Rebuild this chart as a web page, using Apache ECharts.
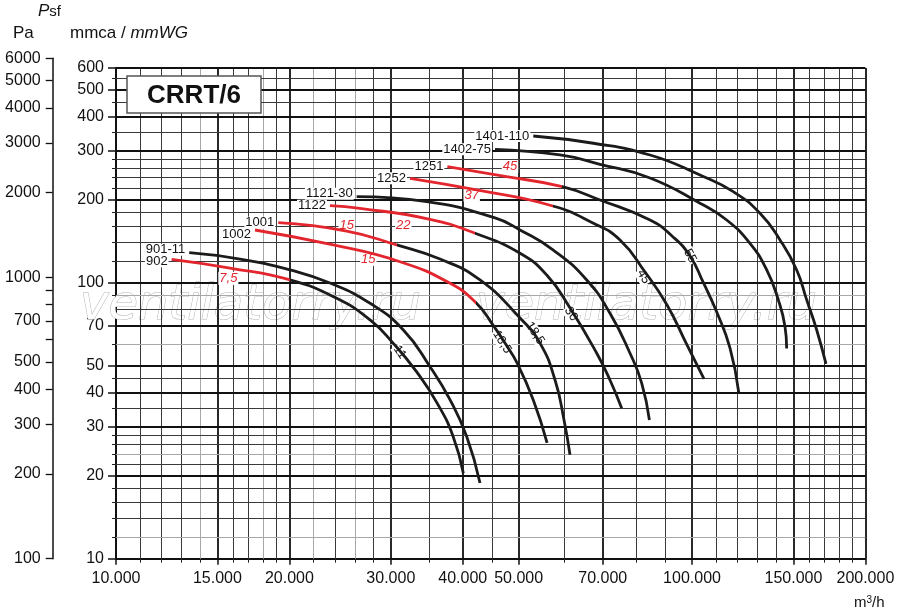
<!DOCTYPE html>
<html><head><meta charset="utf-8">
<script src="https://cdn.jsdelivr.net/npm/echarts@6/dist/echarts.min.js"></script>
<style>html,body{margin:0;padding:0;background:#fff}#c{width:900px;height:615px}</style>
</head><body><div id="c"></div>
<script>
// ---- axis ticks / grid values ----
const xTickMajor = [10000,15000,20000,30000,40000,50000,70000,100000,150000,200000];
const xTickMinor = [11000,12000,13000,14000,16000,17000,18000,19000,22000,24000,26000,28000,35000,45000,60000,80000,90000,110000,120000,130000,140000,160000,170000,180000,190000];
const yTickMajor = [10,20,30,40,50,70,100,200,300,400,500,600];
const yTickMinor = [12,14,16,18,22,24,26,28,35,45,60,80,90,120,140,160,180,220,240,260,280,350,450,550];
const paTickMajor = [100,200,300,400,500,700,1000,2000,3000,4000,5000,6000];
const paTickMinor = [600,800,900];
const xGridGray = [14000,18000,22000,26000];
const yGridGray = [12,24,60,90];

// ---- fan curves [m3/h, mmca] ----
const c902  = [[12490,121.5],[15770,113],[20050,102.3],[24160,87.8],[27610,73.3],[30300,60.3],[33270,47.5],[36080,36.7],[38470,27.8],[40090,20.4]];
const c901  = [[13400,128.4],[16420,121.8],[20050,111.2],[23520,99.7],[27610,84.2],[31540,67.4],[35090,49.6],[38020,37.6],[40630,27.7],[42850,18.8]];
const c1002 = [[17430,155.2],[23840,137],[31120,119.1],[38020,99.5],[42170,84.6],[45140,70.2],[47350,60.4],[49690,51.2],[53020,37.6],[56030,26.3]];
const c1001 = [[19130,165],[25150,153.9],[30710,137],[36520,121.8],[42850,102.3],[50280,74.5],[54460,60.4],[57840,44.4],[59950,31.8],[61400,23.8]];
const c1122 = [[23520,190.1],[26520,186],[35090,169.7],[42010,151],[50280,127.8],[55950,106.6],[61410,80.9],[68330,55.5],[72040,44.4],[75500,35.1]];
const c1121 = [[26170,204.9],[34630,196.6],[45500,171.6],[50280,155.2],[57440,131.3],[65640,102.3],[72040,77.5],[78050,55.5],[81800,43.2],[84340,31.8]];
const c1252 = [[32390,238.9],[42290,216.7],[57310,189.6],[67420,164.2],[74990,142.8],[82880,109.3],[90500,83.0],[98010,59.5],[104910,44.8]];
const c1251 = [[37610,263.3],[47350,242.6],[59540,222.7],[69230,199.4],[84560,168.7],[92310,147.7],[99200,125.0],[104500,100.6],[110390,78.3],[116380,58.0],[120530,40.1]];
const c1402 = [[45500,304.2],[59000,290.2],[69230,268.5],[84560,239.6],[103250,194.0],[114860,168.7],[126080,138.9],[134800,111.2],[141200,86.6],[145030,69.3],[146000,57.8]];
const c1401 = [[53020,340],[67420,320],[84560,290.2],[103250,245.6],[117930,213.7],[131230,178.4],[142170,142.8],[151960,111.2],[158170,86.6],[164620,67.4],[170860,50.8]];

// flow up to which each curve is drawn red (null = all black)
const curveNames = ['902','901-11','1002','1001','1122','1121-30','1252','1251','1402-75','1401-110'];
const curveData  = [c902, c901, c1002, c1001, c1122, c1121, c1252, c1251, c1402, c1401];
const redUntil   = [20050, null, 42170, 30710, 42010, null, 57310, 59540, null, null];

// ---- labels ----
const redLabels = [['7,5',15670,103.7],['15',25150,161.8],['22',31540,161.8],['15',27420,121.5],['37',41450,207.8],['45',48310,263.3]];
const kwLabels  = [['11',31100,56],['18,5',46800,61],['18,5',53380,65.6],['30',61660,77],['45',82330,105],['55',99200,125]];

// styling
const kwAngles   = [-55,-58,-57,-57,-60,-62];
const nameOffset = [2,-3,4,0,0,-3,0,0,0,0];
const RED = '#e3262d', BLK = '#1b1b1b';
const FONT = 'Liberation Sans, Arial, sans-serif';

function thousands(v){ return String(Math.round(v)).replace(/\B(?=(\d{3})+(?!\d))/g,'.'); }

const gridLines = [];
xTickMajor.slice(1).forEach(v => gridLines.push({xAxis: v, lineStyle: {color:'#111', width:1.8, type:'solid'}}));
xTickMinor.forEach(v => gridLines.push({xAxis: v, lineStyle: {color: xGridGray.includes(v) ? '#a8a8a8' : '#3a3a3a', width:1, type:'solid'}}));
yTickMajor.slice(1).forEach(v => gridLines.push({yAxis: v, lineStyle: {color:'#111', width:1.8, type:'solid'}}));
yTickMinor.forEach(v => gridLines.push({yAxis: v, lineStyle: {color: yGridGray.includes(v) ? '#a8a8a8' : '#3a3a3a', width:1, type:'solid'}}));

const series = [];
const visualMaps = [];
series.push({
  type:'line', xAxisIndex:0, yAxisIndex:0, data:[[10000,10]], symbol:'none',
  lineStyle:{opacity:0}, z:1, silent:true,
  markLine:{silent:true, symbol:['none','none'], label:{show:false}, animation:false, data: gridLines}
});

curveData.forEach((pts, i) => {
  const name = curveNames[i];
  const hasRed = redUntil[i] !== null;
  const lineStyle = {width: 2.8, cap:'butt'};
  if (!hasRed) lineStyle.color = BLK;
  series.push({
    type:'line', name, xAxisIndex:0, yAxisIndex:0,
    data: pts, smooth: 0.5, symbol:'none', silent:true, z:5,
    itemStyle:{color: BLK},
    lineStyle,
    markPoint:{
      silent:true, animation:false, symbol:'circle', symbolSize:0,
      data:[{coord: pts[0], label:{show:true, position:'left', distance:3, offset:[0, nameOffset[i]], formatter:name,
        fontFamily:FONT, fontSize:13, lineHeight:12, color:'#111', backgroundColor:'#fff', padding:[0,1]}}]
    }
  });
  if (hasRed) {
    visualMaps.push({type:'piecewise', show:false, seriesIndex: series.length - 1, dimension:0,
      pieces:[{min: 10000, max: redUntil[i], color: RED}, {min: redUntil[i], max: 200000, color: BLK}],
      outOfRange:{color: BLK}});
  }
});

const labelPts = [];
redLabels.forEach(([t,q,p]) => labelPts.push({coord:[q,p], label:{show:true, position:'inside', formatter:t,
  fontFamily:FONT, fontSize:13, fontStyle:'italic', color:RED, backgroundColor:'#fff', padding:[0,1]}}));
kwLabels.forEach(([t,q,p], i) => labelPts.push({coord:[q,p], label:{show:true, position:'inside', formatter:t,
  rotate:kwAngles[i], fontFamily:FONT, fontSize:12.5, color:'#111', backgroundColor:'#fff', padding:[0,1]}}));
series.push({
  type:'line', xAxisIndex:0, yAxisIndex:0, data:[[10000,10]], symbol:'none', lineStyle:{opacity:0}, z:8, silent:true,
  markPoint:{silent:true, animation:false, symbol:'circle', symbolSize:0, data: labelPts}
});

const axisLabelStyle = {fontFamily:FONT, fontSize:16, color:'#111'};

const option = {
  animation:false,
  backgroundColor:'#fff',
  grid:[
    {left:116, right:34.6, top:67.9, bottom:56.3, containLabel:false},
    {left:52.7, width:1, top:58.3, bottom:56.3, containLabel:false}
  ],
  visualMap: visualMaps,
  xAxis:[
    {type:'log', gridIndex:0, position:'bottom', min:10000, max:200000,
     axisLine:{show:true, lineStyle:{color:'#111', width:2}},
     axisTick:{show:true, customValues:xTickMajor, length:6, lineStyle:{color:'#111', width:1.5}},
     axisLabel:{show:true, customValues:xTickMajor, margin:12, formatter: v => thousands(v), ...axisLabelStyle},
     splitLine:{show:false}, minorTick:{show:false}},
    {type:'log', gridIndex:0, position:'bottom', min:10000, max:200000,
     axisLine:{show:false}, axisTick:{show:true, customValues:xTickMinor, length:4, lineStyle:{color:'#222', width:1}},
     axisLabel:{show:false}, splitLine:{show:false}},
    {type:'value', gridIndex:1, show:false, min:0, max:1}
  ],
  yAxis:[
    {type:'log', gridIndex:0, position:'left', min:10, max:600,
     axisLine:{show:true, lineStyle:{color:'#111', width:2}},
     axisTick:{show:true, customValues:yTickMajor, length:8, lineStyle:{color:'#111', width:1.5}},
     axisLabel:{show:true, customValues:yTickMajor, margin:12, formatter: v => String(Math.round(v)), ...axisLabelStyle},
     splitLine:{show:false}},
    {type:'log', gridIndex:0, position:'left', min:10, max:600,
     axisLine:{show:false}, axisTick:{show:true, customValues:yTickMinor, length:4, lineStyle:{color:'#222', width:1}},
     axisLabel:{show:false}, splitLine:{show:false}},
    {type:'log', gridIndex:1, position:'left', min:100, max:6000,
     axisLine:{show:true, lineStyle:{color:'#111', width:1.5}},
     axisTick:{show:true, customValues:paTickMajor.concat(paTickMinor), length:7, lineStyle:{color:'#111', width:1.3}},
     axisLabel:{show:true, customValues:paTickMajor, margin:12, formatter: v => String(Math.round(v)), ...axisLabelStyle},
     splitLine:{show:false}}
  ],
  graphic:[
    {type:'text', x:80, y:307, z:3, silent:true, style:{text:'ventilatorry.ru', font:'oblique 48px "DejaVu Sans"', fill:'#fff', stroke:'#b4b4b4', lineWidth:1, verticalAlign:'middle'}},
    {type:'text', x:476, y:307, z:3, silent:true, style:{text:'ventilatorry.ru', font:'oblique 48px "DejaVu Sans"', fill:'#fff', stroke:'#b4b4b4', lineWidth:1, verticalAlign:'middle'}},
    {type:'rect', z:10, shape:{x:127, y:76, width:134, height:37}, style:{fill:'#fff', stroke:'#555', lineWidth:1.5}},
    {type:'text', x:194, y:95.5, z:11, style:{text:'CRRT/6', font:'bold 26px "Liberation Sans"', fill:'#111', align:'center', verticalAlign:'middle'}},
    {type:'text', x:38, y:3, z:11, style:{text:'{a|P}{b|sf}', rich:{a:{fontFamily:FONT, fontSize:17, fontStyle:'italic', fill:'#111'}, b:{fontFamily:FONT, fontSize:15, fill:'#111'}}}},
    {type:'text', x:13, y:25, z:11, style:{text:'Pa', font:'17px "Liberation Sans"', fill:'#111'}},
    {type:'text', x:70, y:25, z:11, style:{text:'{a|mmca / }{b|mmWG}', rich:{a:{fontFamily:FONT, fontSize:17, fill:'#111'}, b:{fontFamily:FONT, fontSize:17, fontStyle:'italic', fill:'#111'}}}},
    {type:'text', x:854, y:595, z:11, style:{text:'{a|m}{s|3}{a|/h}', rich:{a:{fontFamily:FONT, fontSize:15, fill:'#111'}, s:{fontFamily:FONT, fontSize:10, fill:'#111', verticalAlign:'top', padding:[0,0,6,0]}}}}
  ],
  series
};

const chart = echarts.init(document.getElementById('c'));
chart.setOption(option);
</script>
</body></html>
